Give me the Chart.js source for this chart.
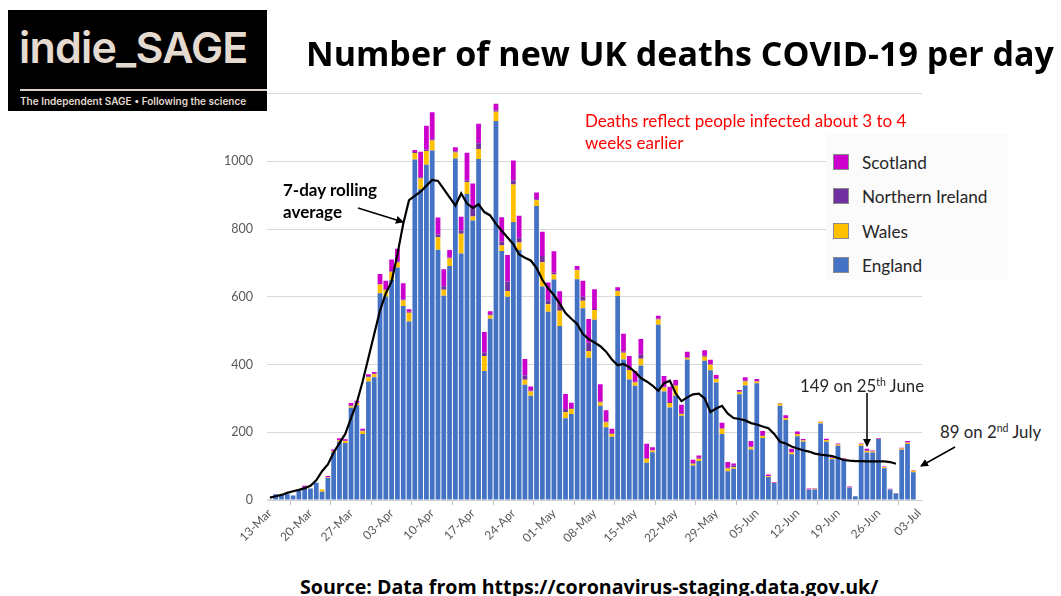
<!DOCTYPE html>
<html>
<head>
<meta charset="utf-8">
<script src="https://cdn.jsdelivr.net/npm/chart.js@4.4.1/dist/chart.umd.min.js"></script>
<style>
  body { margin: 0; width: 1061px; height: 596px; background: #fff; position: relative; overflow: hidden; font-family: Lato, sans-serif; }
  .abs { position: absolute; white-space: nowrap; line-height: 1; }
  #wrap { position: absolute; left: 215px; top: 72px; width: 720px; height: 488px; }
  #logo { left: 8px; top: 10px; width: 259px; height: 101px; background: #000; z-index: 3; }
  #logo .big { left: 11px; top: 11px; font: 600 43px Inter, sans-serif; color: #e4dad0; letter-spacing: -0.8px; }
  #logo .rule { left: 12px; top: 79px; width: 247px; height: 2px; background: #d9cfc4; }
  #logo .small { left: 12px; top: 85px; font: 600 10px Inter, sans-serif; color: #e4dad0; }
  #title { left: 306px; top: 30px; font: 700 34px "Open Sans", sans-serif; color: #000; z-index: 3; }
  #source { left: 300px; top: 573px; font: 700 19.6px "Open Sans", sans-serif; color: #000; }
  #note { left: 585px; top: 110px; font: 17px Lato, sans-serif; color: #ff0000; line-height: 22px; z-index: 3; }
  #avgLabel { left: 283px; top: 179px; font: 700 17px Lato, sans-serif; color: #000; line-height: 22px; z-index: 3; }
  #legend { left: 826px; top: 134px; width: 182px; height: 146px; background: #fbfbfb; z-index: 2; }
  .item { position: absolute; left: 7px; height: 16px; }
  .item span.sw { position: absolute; left: 0; top: 0; width: 14px; height: 14px; border: 1px solid #8a8a8a; }
  .item span.tx { position: absolute; left: 29px; top: -2px; font: 17.2px Lato, sans-serif; color: #262626; white-space: nowrap; }
  .callout { font: 16.8px Lato, sans-serif; color: #262626; z-index: 3; }
  .callout sup { font-size: 10.5px; vertical-align: 6px; line-height: 0; }
  svg { position: absolute; left: 0; top: 0; z-index: 4; pointer-events: none; }
</style>
</head>
<body>
<div id="logo" class="abs">
  <div class="abs big">indie_SAGE</div>
  <div class="abs rule"></div>
  <div class="abs small">The Independent SAGE • Following the science</div>
</div>
<div id="title" class="abs">Number of new UK deaths COVID-19 per day</div>
<div id="wrap"><canvas id="chart" width="720" height="488"></canvas></div>
<div id="note" class="abs">Deaths reflect people infected about 3 to 4<br>weeks earlier</div>
<div id="avgLabel" class="abs">7-day rolling<br>average</div>
<div id="legend" class="abs"></div>
<div class="abs callout" style="left:800px; top:375px;">149 on 25<sup>th</sup> June</div>
<div class="abs callout" style="left:940px; top:421px;">89 on 2<sup>nd</sup> July</div>
<div id="source" class="abs">Source: Data from https://coronavirus-staging.data.gov.uk/</div>
<svg width="1061" height="596">
  <defs>
    <marker id="head" markerWidth="8" markerHeight="8" refX="7" refY="4" orient="auto" markerUnits="userSpaceOnUse">
      <path d="M0,0 L8,4 L0,8 Z" fill="#000"/>
    </marker>
  </defs>
  <line x1="358" y1="208" x2="403" y2="222" stroke="#000" stroke-width="1.5" marker-end="url(#head)"/>
  <line x1="867" y1="393" x2="867" y2="446" stroke="#000" stroke-width="1.5" marker-end="url(#head)"/>
  <line x1="955" y1="447" x2="921" y2="466" stroke="#000" stroke-width="1.5" marker-end="url(#head)"/>
</svg>
<script>
// weekly labels shown under the axis
const tickLabels = ['13-Mar', '20-Mar', '27-Mar', '03-Apr', '10-Apr', '17-Apr', '24-Apr', '01-May',
  '08-May', '15-May', '22-May', '29-May', '05-Jun', '12-Jun', '19-Jun', '26-Jun', '03-Jul'];

// one category per day, 13 Mar to 3 Jul 2020
const months = ['Jan', 'Feb', 'Mar', 'Apr', 'May', 'Jun', 'Jul'];
const days = [];
for (let d = new Date(2020, 2, 13); d <= new Date(2020, 6, 3); d.setDate(d.getDate() + 1)) {
  days.push(String(d.getDate()).padStart(2, '0') + '-' + months[d.getMonth()]);
}

const england = [1, 17, 15, 17, 13, 29, 37, 34, 51, 24,
  66, 141, 172, 168, 272, 280, 195, 350, 362, 610,
  600, 650, 686, 573, 527, 1005, 917, 990, 1032, 739,
  603, 691, 1008, 728, 903, 825, 1007, 381, 535, 1119,
  735, 600, 821, 738, 340, 308, 868, 630, 556, 651,
  514, 241, 254, 652, 566, 420, 532, 278, 215, 187,
  602, 415, 356, 337, 397, 110, 141, 517, 320, 273,
  308, 249, 415, 102, 115, 411, 383, 347, 195, 85,
  92, 312, 338, 149, 345, 183, 68, 50, 278, 236,
  135, 188, 172, 30, 31, 226, 172, 120, 160, 120,
  36, 11, 160, 140, 140, 180, 94, 31, 19, 148,
  165, 82, null];

const wales = [0, 0, 0, 0, 0, 0, 0, 0, 0, 7,
  2, 3, 4, 6, 5, 5, 8, 12, 9, 26,
  20, 24, 15, 16, 26, 19, 32, 40, 29, 37,
  18, 22, 18, 58, 35, 12, 29, 44, 10, 27,
  16, 17, 110, 22, 15, 12, 17, 72, 22, 15,
  45, 18, 15, 26, 22, 20, 29, 10, 14, 8,
  15, 20, 28, 10, 20, 12, 5, 16, 12, 13,
  29, 5, 5, 5, 7, 12, 16, 10, 15, 8,
  5, 7, 12, 7, 5, 6, 2, 1, 7, 5,
  5, 6, 4, 1, 2, 5, 5, 4, 4, 2,
  1, 0, 5, 5, 3, 1, 3, 1, 1, 4,
  4, 4, null];

const northernIreland = [0, 0, 0, 0, 0, 0, 0, 0, 0, 0,
  0, 0, 1, 1, 2, 2, 2, 3, 2, 2,
  2, 2, 4, 3, 3, 3, 4, 5, 4, 8,
  10, 3, 3, 10, 5, 25, 17, 10, 3, 4,
  12, 28, 13, 14, 13, 3, 3, 18, 12, 5,
  17, 10, 2, 2, 12, 24, 3, 3, 3, 1,
  2, 4, 3, 2, 12, 2, 1, 2, 2, 3,
  2, 2, 2, 2, 3, 3, 2, 2, 2, 2,
  5, 1, 2, 2, 1, 2, 1, 0, 1, 1,
  1, 1, 1, 0, 0, 0, 0, 0, 0, 0,
  0, 0, 0, 1, 0, 0, 0, 0, 0, 0,
  1, 0, null];

const scotland = [0, 0, 0, 0, 0, 0, 5, 0, 0, 0,
  3, 5, 5, 4, 7, 6, 5, 6, 5, 29,
  25, 34, 37, 48, 7, 6, 75, 70, 80, 50,
  50, 22, 12, 40, 82, 72, 58, 61, 9, 20,
  72, 78, 58, 65, 48, 12, 20, 72, 52, 63,
  40, 44, 16, 11, 47, 70, 58, 51, 33, 14,
  9, 52, 38, 32, 46, 42, 9, 9, 32, 45,
  15, 25, 16, 10, 6, 16, 13, 10, 16, 17,
  6, 5, 10, 16, 6, 13, 4, 2, 0, 8,
  10, 7, 3, 3, 2, 1, 4, 2, 3, 2,
  3, 0, 2, 5, 3, 2, 2, 1, 1, 2,
  4, 2, null];

// 7-day rolling average
const rollingAvg = [7, 11, 15, 21, 26, 30, 35, 42, 58, 85,
  105, 140, 168, 195, 242, 288, 350, 420, 490, 560,
  610, 645, 725, 815, 885, 898, 910, 928, 945, 942,
  918, 893, 869, 905, 875, 862, 873, 850, 840, 815,
  795, 775, 755, 725, 715, 707, 685, 650, 625, 605,
  580, 552, 535, 520, 490, 475, 465, 454, 438, 415,
  398, 402, 392, 378, 360, 350, 338, 322, 345, 352,
  315, 292, 303, 312, 314, 300, 260, 270, 278, 255,
  242, 239, 235, 227, 223, 217, 212, 195, 172, 167,
  158, 152, 147, 143, 137, 134, 132, 130, 124, 118,
  116, 115, 115, 114, 114, 114, 114, 112, 107, null,
  null, null, null];

const nations = [
  { name: 'England', data: england, color: '#4472c4' },
  { name: 'Wales', data: wales, color: '#ffc000' },
  { name: 'Northern Ireland', data: northernIreland, color: '#7030a0' },
  { name: 'Scotland', data: scotland, color: '#cc00cc' }
];

// legend, Scotland on top like the original
const legend = document.getElementById('legend');
nations.slice().reverse().forEach((n, i) => {
  const el = document.createElement('div');
  el.className = 'item';
  el.style.top = (20 + i * 34.3) + 'px';
  el.innerHTML = `<span class="sw" style="background:${n.color}"></span><span class="tx">${n.name}</span>`;
  legend.appendChild(el);
});

const datasets = [{
  type: 'line',
  label: '7-day rolling average',
  data: rollingAvg,
  borderColor: '#000',
  borderWidth: 2.2,
  pointRadius: 0,
  tension: 0,
  stack: 'avg',
  order: 0
}].concat(nations.map(n => ({
  label: n.name,
  data: n.data,
  backgroundColor: n.color,
  stack: 'deaths',
  order: 1,
  barPercentage: 0.82,
  categoryPercentage: 1
})));

new Chart(document.getElementById('chart'), {
  type: 'bar',
  data: { labels: days, datasets: datasets },
  options: {
    responsive: false,
    animation: false,
    layout: { padding: { top: 3, right: 13, left: 0, bottom: 0 } },
    plugins: { legend: { display: false }, tooltip: { enabled: false } },
    scales: {
      x: {
        stacked: true,
        offset: true,
        grid: { offset: true, drawOnChartArea: false, drawTicks: true, tickLength: 5, color: '#bfbfbf' },
        border: { display: true, color: '#d0d0d0' },
        ticks: {
          autoSkip: false, maxRotation: 45, minRotation: 45, padding: 1,
          color: '#595959', font: { family: 'Lato', size: 12 },
          callback: (v, i) => tickLabels.includes(days[i]) ? days[i] : null
        },
        afterFit: s => { s.height = 60; }
      },
      y: {
        stacked: true,
        min: 0, max: 1200,
        ticks: { stepSize: 200, padding: 14, color: '#595959', font: { family: 'Lato', size: 12.5 }, callback: v => String(v) },
        grid: { color: '#d9d9d9', drawTicks: false },
        border: { display: false },
        afterFit: s => { s.width = 52; }
      }
    }
  }
});
</script>
</body>
</html>
